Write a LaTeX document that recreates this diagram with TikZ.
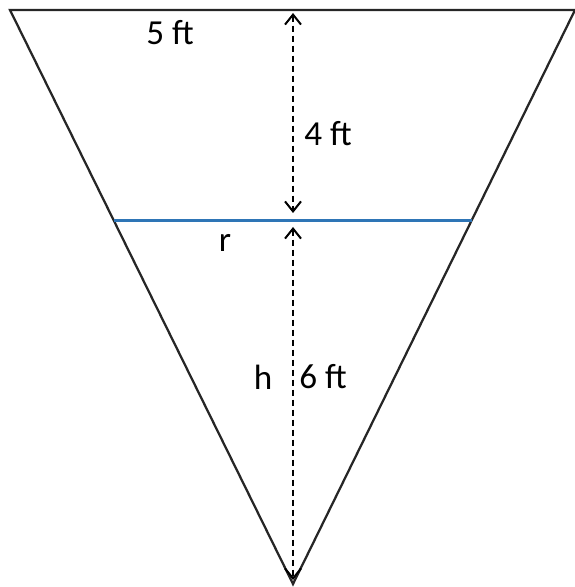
\documentclass[tikz,border=0pt]{standalone}
\usepackage{fontspec}
\setmainfont{Carlito}
\usetikzlibrary{arrows.meta,calc}
\definecolor{waterblue}{RGB}{46,117,182}

\begin{document}
\begin{tikzpicture}[
    x=0.02cm, y=-0.02cm,
    edge/.style={line width=0.045cm, draw=black!85},
    level/.style={line width=0.06cm, draw=waterblue},
    dim/.style={{Straight Barb[length=0.2cm, width=0.32cm]}-{Straight Barb[length=0.2cm, width=0.32cm]}, line width=0.04cm, dash pattern=on 0.12cm off 0.08cm},
    label/.style={font=\fontsize{20}{24}\selectfont, inner sep=0pt},
]
\useasboundingbox (0,0) rectangle (574,587);

% Cone corners
\coordinate (tl) at (10,10);
\coordinate (tr) at (575,10);
\coordinate (apex) at (293,584);

% Cone outline
\draw[edge, line join=miter] (tl) -- (tr) -- (apex) -- cycle;

% Water level
\coordinate (wl) at ($(tl)!0.366!(apex)$);
\coordinate (wr) at ($(tr)!0.366!(apex)$);
\draw[level] (wl) -- (wr);

% Dimension arrows
\coordinate (d1) at (293,13);
\coordinate (d2) at (293,213);
\coordinate (d3) at (293,227);
\coordinate (d4) at (293,580);
\draw[dim] (d1) -- (d2);
\draw[dim] (d3) -- (d4);

% Labels
\node[label] (top) at (170,33) {5 ft};
\node[label] (upper) at (328,134) {4 ft};
\node[label] (rad) at (225,243) {r};
\node[label] (hgt) at (263,377) {h};
\node[label] (lower) at (323,377) {6 ft};

\end{tikzpicture}
\end{document}
